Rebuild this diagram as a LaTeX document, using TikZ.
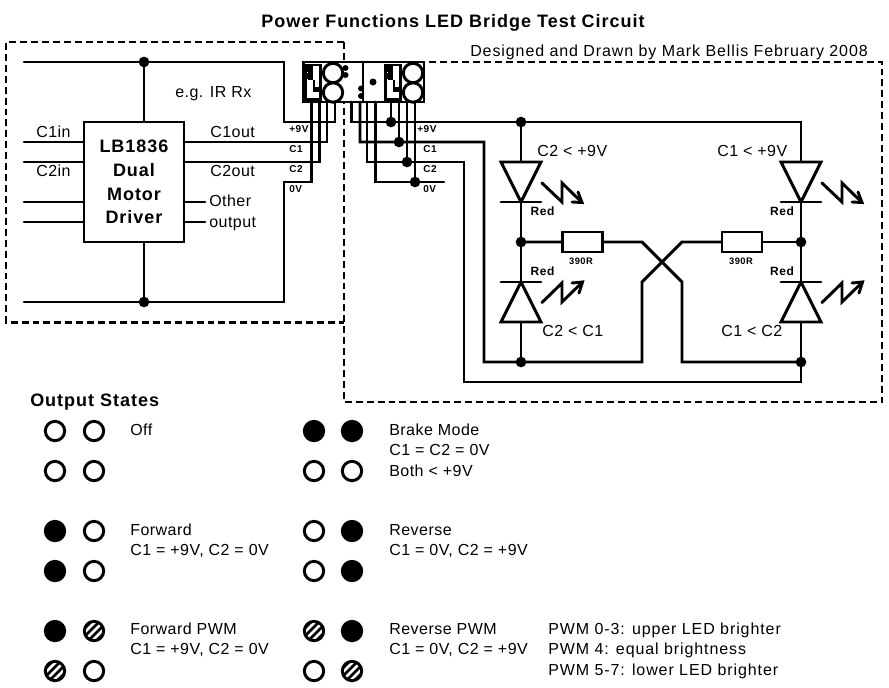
\documentclass[tikz,border=0pt]{standalone}
\usepackage{fontspec}
\setmainfont[LetterSpace=5.5]{Liberation Sans}
\newfontfamily\wfont[LetterSpace=5.7]{Liberation Sans}
\newfontfamily\lfont[LetterSpace=3]{Liberation Sans}
\tikzset{
  wire/.style={line width=2.2pt,line cap=round,line join=miter},
  frame/.style={line width=1.9pt,dash pattern=on 5.2pt off 3pt},
  dot/.style={circle,fill=black,inner sep=0pt,minimum size=8pt},
  lab/.style={font=\lfont\fontsize{12}{13}\selectfont,inner sep=0pt,anchor=base west,yshift=-4.2pt},
  wlab/.style={lab,font=\wfont\fontsize{12}{13}\selectfont},
  blab/.style={font=\fontsize{9}{10}\selectfont\bfseries,inner sep=0pt},
  rlab/.style={font=\fontsize{7}{8}\selectfont\bfseries,inner sep=0pt},
  tlab/.style={font=\fontsize{7.5}{8}\selectfont\bfseries,inner sep=0pt,anchor=base west,yshift=-2.7pt},
  off/.style={circle,draw,line width=2.2pt,fill=white,inner sep=0pt,minimum size=14.5pt},
  on/.style={off,fill=black},
  pwm/.style={off,fill=black,path picture={
    \begin{scope}[shift={(path picture bounding box.center)}]
      \foreach \c in {-8,0,8} \draw[white,line width=2pt] (\c-14,14) -- (\c+14,-14);
    \end{scope}}},
  res/.style={rectangle,draw,line width=2.2pt,fill=white,inner sep=0pt,minimum width=30pt,minimum height=15pt},
  chip/.style={rectangle,draw,line width=2.2pt,fill=white,inner sep=0pt,minimum width=75pt,minimum height=90pt,align=center,font=\fontsize{13.5}{17.8}\selectfont\bfseries},
}
\newcommand{\ledd}[2]{%
  \draw[wire,fill=white] (#1-20,#2-40) -- (#1+20,#2-40) -- (#1,#2) -- cycle;
  \draw[wire] (#1-20,#2) -- (#1+20,#2);
}
\newcommand{\ledu}[2]{%
  \draw[wire,fill=white] (#1-20,#2+40) -- (#1+20,#2+40) -- (#1,#2) -- cycle;
  \draw[wire] (#1-20,#2) -- (#1+20,#2);
}
\newcommand{\zigd}[1]{%
  \begin{scope}[shift={(#1,0)}]
  \draw[wire] (542,183) -- (562,202) -- (562,183) -- (582,202.5);
  \draw[wire] (572,202) -- (582,202.5) -- (578,192);
  \end{scope}
}
\newcommand{\zigu}[1]{%
  \begin{scope}[shift={(#1,0)}]
  \draw[wire] (542,302.5) -- (562,283) -- (562,302) -- (582.5,282);
  \draw[wire] (572,283) -- (582.5,282) -- (579,293);
  \end{scope}
}
\newcommand{\blade}[1]{%
  \begin{scope}[shift={(#1,0)}]
  \draw[wire,fill=white] (305.5,65) rectangle (320.5,99.5);
  \fill (306.7,66) rectangle (313.3,72);
  \fill (308,72) rectangle (313.3,80);
  \fill (306.7,73) rectangle (310,79);
  \fill (313,80) rectangle (315,92);
  \fill (313,87) rectangle (319,92);
  \end{scope}
}
\begin{document}
\begin{tikzpicture}[x=0.75pt,y=-0.75pt]
\useasboundingbox (0,0) rectangle (889,687);
\fill[white] (0,0) rectangle (889,687);

% frames
\draw[frame] (344,42) -- (6,42) -- (6,322.5) -- (344,322.5);
\draw[frame] (344,42) -- (344,402) -- (882,402) -- (882,62) -- (424,62);

% titles
\node[inner sep=0pt,anchor=base,yshift=-4.5pt,font=\fontsize{13.5}{16}\selectfont\bfseries] (title) at (453,21) {Power Functions LED Bridge Test Circuit};
\node[wlab] (credit) at (470,51) {Designed and Drawn by Mark Bellis February 2008};

% left side wires
\coordinate (lt) at (144,62);
\coordinate (lb) at (144,302);
\node[chip] (drv) at (134,182) {LB1836\\Dual\\Motor\\Driver};
\draw[wire] (24,62) -- (284,62) -- (284,122) -- (335,122) -- (335,102);
\draw[wire] (24,302) -- (284,302) -- (284,182) -- (311.7,182) -- (311.7,102);
\draw[wire] (lt) -- (drv.north -| lt);
\draw[wire] (drv.south -| lb) -- (lb);
\draw[wire] (24,142) -- (84,142);
\draw[wire] (24,162) -- (84,162);
\draw[wire] (24,202) -- (84,202);
\draw[wire] (24,222) -- (84,222);
\draw[wire] (184,142) -- (327,142) -- (327,102);
\draw[wire] (184,162) -- (319.3,162) -- (319.3,102);
\draw[wire] (184,202) -- (205,202);
\draw[wire] (184,222) -- (205,222);
\node[dot] (d1) at (lt) {};
\node[dot] (d2) at (lb) {};
\node[lab] (c1in) at (36,132) {C1in};
\node[lab] (c2in) at (36,171) {C2in};
\node[lab] (c1out) at (210,132) {C1out};
\node[lab] (c2out) at (210,171) {C2out};
\node[lab] (oth) at (209,201) {Other};
\node[lab] (out) at (209,222) {output};
\node[lab] (ir) at (175,92) {e.g. IR Rx};
\node[tlab] at (289,129) {+9V};
\node[tlab] at (289,149) {C1};
\node[tlab] at (289,169) {C2};
\node[tlab] at (289,189) {0V};

% connector
\draw[wire,fill=white] (303.5,62) rectangle (424,102);
\blade{0}
\blade{80}
\draw[wire,fill=white] (333,73) circle (9.7);
\draw[wire,fill=white] (333,92.5) circle (9.7);
\draw[wire,fill=white] (413,73) circle (9.7);
\draw[wire,fill=white] (413,92.5) circle (9.7);
\draw[wire] (363,62) -- (363,102);
\fill (345.5,68) circle (3);
\fill (345.5,75) circle (3);
\fill (361,88.5) circle (3);
\fill (361,96) circle (3);
\fill (373,82) circle (3.5);

% right side wires
\coordinate (r9) at (521,122);
\coordinate (rm) at (521,242);
\coordinate (rb) at (521,362);
\coordinate (qm) at (801,242);
\coordinate (qb) at (801,362);
\draw[wire] (351.5,102) -- (351.5,122) -- (801,122) -- (801,382) -- (464,382) -- (464,162) -- (367,162) -- (367,102);
\draw[wire] (360,102) -- (360,142) -- (484,142) -- (484,362) -- (642,362) -- (642,282) -- (682,242) -- (722,242);
\draw[wire] (375.5,102) -- (375.5,182) -- (444,182);
\draw[wire] (391,102) -- (391,122);
\draw[wire] (399,102) -- (399,142);
\draw[wire] (407,102) -- (407,162);
\draw[wire] (415,102) -- (415,182);
\node[dot] at (391,122) {};
\node[dot] at (399,142) {};
\node[dot] at (407,162) {};
\node[dot] at (415,182) {};
\node[tlab] at (417,129) {+9V};
\node[tlab] at (423,149) {C1};
\node[tlab] at (423,169) {C2};
\node[tlab] at (423,189) {0V};

\draw[wire] (521,122) -- (521,362);
\ledd{521}{202}
\ledu{521}{282}
\ledd{801}{202}
\ledu{801}{282}
\node[dot] at (r9) {};
\node[dot] at (rm) {};
\node[dot] at (rb) {};
\node[dot] at (qm) {};
\node[dot] at (qb) {};
\draw[wire] (521,242) -- (642,242) -- (682,282) -- (682,362) -- (801,362);
\draw[wire] (722,242) -- (801,242);
\node[res] (r1) at (582.5,242) {};
\node[res] (r2) at (742,242) {};
\node[rlab] at (581,261) {390R};
\node[rlab] at (741,261) {390R};
\node[lab] at (537,151) {C2 < +9V};
\node[lab] at (717,151) {C1 < +9V};
\node[lab] at (542,331) {C2 < C1};
\node[lab] at (721,331) {C1 < C2};
\node[blab] at (542.5,211) {Red};
\node[blab] at (782,211) {Red};
\node[blab] at (542.5,271) {Red};
\node[blab] at (782,271) {Red};
\zigd{0}
\zigu{0}
\zigd{280}
\zigu{280}

% Output states
\node[inner sep=0pt,anchor=base west,yshift=-4.5pt,font=\fontsize{13.5}{15}\selectfont\bfseries] (os) at (30,400) {Output States};
\node[off] at (55,431) {};\node[off] at (94,431) {};
\node[off] at (55,471) {};\node[off] at (94,471) {};
\node[lab] at (130,430) {Off};
\node[on] at (55,531) {};\node[off] at (94,531) {};
\node[on] at (55,571) {};\node[off] at (94,571) {};
\node[lab] at (130,530) {Forward};
\node[lab] at (130,550) {C1 = +9V, C2 = 0V};
\node[on] at (55,631) {};\node[pwm] at (94,631) {};
\node[pwm] at (55,671) {};\node[off] at (94,671) {};
\node[lab] at (130,629) {Forward PWM};
\node[lab] at (130,649) {C1 = +9V, C2 = 0V};
\node[on] at (314,431) {};\node[on] at (352,431) {};
\node[off] at (314,471) {};\node[off] at (352,471) {};
\node[lab] at (389,430) {Brake Mode};
\node[lab] at (389,450) {C1 = C2 = 0V};
\node[lab] at (389,471) {Both < +9V};
\node[off] at (314,531) {};\node[on] at (352,531) {};
\node[off] at (314,571) {};\node[on] at (352,571) {};
\node[lab] at (389,530) {Reverse};
\node[lab] at (389,550) {C1 = 0V, C2 = +9V};
\node[pwm] at (314,631) {};\node[on] at (352,631) {};
\node[off] at (314,671) {};\node[pwm] at (352,671) {};
\node[lab] at (389,629) {Reverse PWM};
\node[lab] at (389,649) {C1 = 0V, C2 = +9V};
\node[wlab] at (548,629) {PWM 0-3: upper LED brighter};
\node[wlab] at (548,649) {PWM 4: equal brightness};
\node[wlab] at (548,670) {PWM 5-7: lower LED brighter};
\end{tikzpicture}
\end{document}
